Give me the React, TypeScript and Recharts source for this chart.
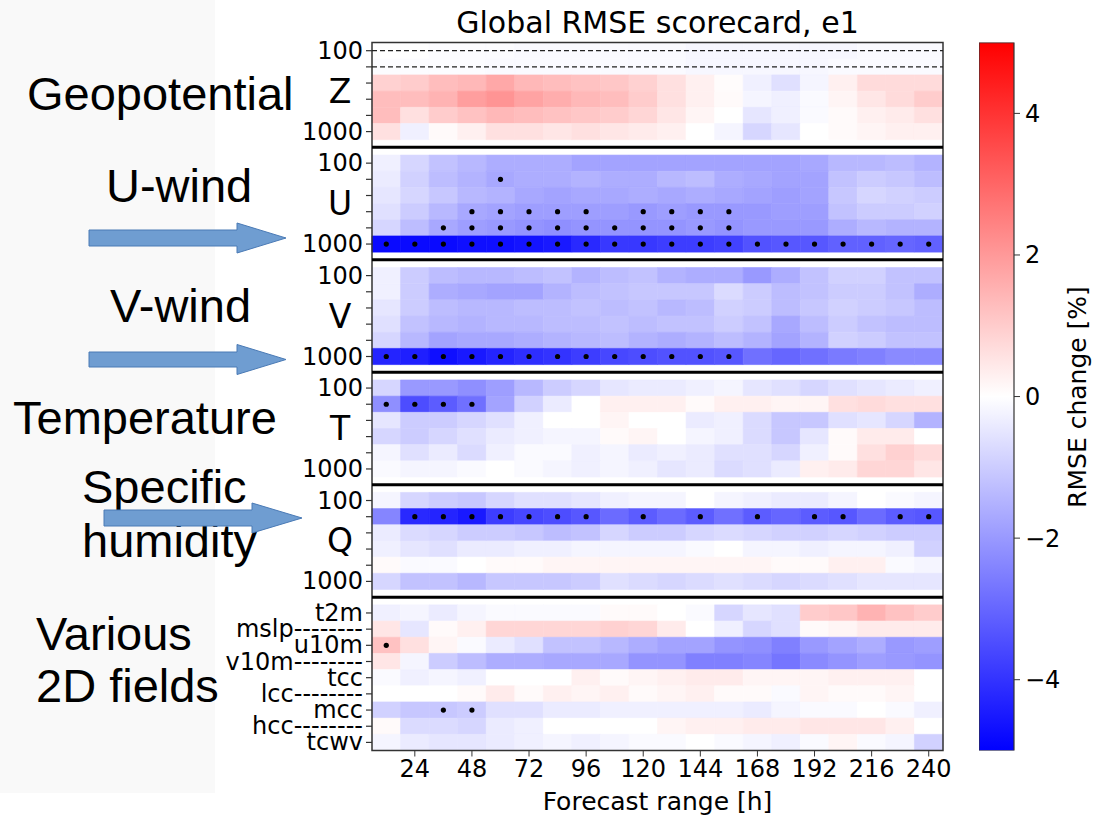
import { ScatterChart, Scatter, XAxis, YAxis, ReferenceArea, ReferenceLine, ComposedChart, Bar } from 'recharts';

// forecast steps (h) and x tick labels
const HOURS = [12, 24, 36, 48, 60, 72, 84, 96, 108, 120, 132, 144, 156, 168, 180, 192, 204, 216, 228, 240];
const X_TICKS = [24, 48, 72, 96, 120, 144, 168, 192, 216, 240];
const CBAR_TICKS = [-4, -2, 0, 2, 4];
const CBAR_RANGE = [{ name: 'cbar', range: [-5, 5] }];

const LEVEL_LABELS = ['100', '', '', '', '', '1000'];
const SFC_LABELS = ['t2m', 'mslp--------', 'u10m', 'v10m--------', 'tcc', 'lcc--------', 'mcc', 'hcc--------', 'tcwv'];
const PANEL_NAMES = ['Z', 'U', 'V', 'T', 'Q', ''];

// RMSE change [%], rows top -> bottom, columns 12h..240h
const Z_VALUES = [
  [0.0, 0.0, -0.05, -0.05, -0.05, -0.1, -0.1, -0.1, -0.1, -0.1, -0.1, -0.15, -0.15, -0.15, -0.15, -0.15, -0.15, -0.1, -0.1, -0.1],
  [-0.05, -0.05, -0.05, -0.05, -0.1, -0.1, -0.1, -0.1, -0.1, -0.1, -0.1, -0.15, -0.15, -0.15, -0.15, -0.15, -0.1, -0.1, -0.1, -0.1],
  [0.9, 1.0, 1.3, 1.4, 1.7, 1.4, 1.3, 1.2, 1.1, 0.9, 0.6, 0.3, 0.05, -0.3, -0.6, -0.2, 0.3, 0.7, 0.7, 0.7],
  [1.3, 1.3, 1.5, 1.9, 2.1, 1.8, 1.6, 1.4, 1.3, 1.0, 0.6, 0.3, 0.1, -0.2, -0.3, -0.1, 0.2, 0.5, 0.7, 1.0],
  [1.3, 0.6, 1.0, 1.2, 1.4, 1.3, 1.2, 1.1, 1.0, 0.8, 0.5, 0.2, 0.0, -0.5, -0.3, -0.1, 0.1, 0.3, 0.4, 0.6],
  [0.6, -0.3, 0.1, 0.3, 0.6, 0.6, 0.5, 0.6, 0.5, 0.4, 0.3, 0.0, -0.2, -0.8, -0.5, 0.0, 0.1, 0.2, 0.3, 0.3],
];
const U_VALUES = [
  [-0.3, -0.8, -1.2, -1.4, -1.6, -1.6, -1.6, -1.8, -1.8, -1.8, -1.8, -1.8, -1.8, -1.8, -1.8, -1.7, -1.4, -1.4, -1.3, -1.5],
  [-0.4, -0.9, -1.3, -1.5, -1.7, -1.6, -1.6, -1.5, -1.6, -1.6, -1.4, -1.3, -1.6, -1.7, -1.8, -1.8, -1.2, -1.0, -1.1, -1.3],
  [-0.5, -0.8, -1.1, -1.4, -1.5, -1.7, -1.8, -1.7, -1.7, -1.6, -1.7, -1.6, -1.7, -1.8, -1.9, -1.8, -1.1, -0.8, -0.9, -1.0],
  [-0.6, -1.0, -1.4, -1.7, -1.8, -1.9, -1.9, -1.9, -1.9, -2.0, -1.9, -2.0, -2.0, -2.0, -1.9, -1.9, -1.2, -1.0, -1.0, -0.9],
  [-0.8, -1.3, -1.7, -1.9, -2.0, -2.1, -2.2, -2.1, -2.1, -2.1, -2.1, -2.0, -2.1, -2.0, -2.0, -2.0, -1.6, -1.4, -1.5, -1.5],
  [-4.8, -4.8, -4.8, -4.7, -4.7, -4.6, -4.5, -4.2, -3.9, -3.9, -3.8, -3.8, -3.7, -3.4, -3.3, -3.3, -3.1, -3.1, -3.0, -3.1],
];
const V_VALUES = [
  [-0.3, -1.0, -1.3, -1.4, -1.4, -1.3, -1.2, -1.5, -1.3, -1.2, -1.5, -1.6, -1.6, -2.0, -1.6, -1.2, -0.9, -0.9, -1.2, -1.2],
  [-0.3, -1.0, -1.6, -1.7, -1.8, -1.8, -1.5, -1.3, -1.2, -1.1, -1.1, -1.1, -0.7, -1.0, -1.3, -1.2, -1.0, -1.0, -1.2, -1.6],
  [-0.5, -1.0, -1.3, -1.4, -1.4, -1.3, -1.3, -1.2, -1.3, -1.2, -1.4, -1.3, -0.9, -1.0, -1.3, -1.1, -0.9, -1.0, -1.1, -1.3],
  [-0.6, -1.2, -1.4, -1.5, -1.4, -1.4, -1.3, -1.3, -1.2, -1.3, -1.2, -1.2, -1.0, -1.2, -1.7, -1.3, -1.0, -1.2, -1.3, -1.3],
  [-0.8, -1.4, -1.8, -1.7, -1.7, -1.6, -1.5, -1.4, -1.3, -1.5, -1.6, -1.5, -1.3, -1.5, -1.8, -1.5, -0.9, -1.0, -1.2, -1.2],
  [-4.3, -4.4, -4.7, -4.5, -4.3, -4.1, -4.0, -3.8, -3.6, -3.5, -3.4, -3.4, -3.3, -2.8, -3.0, -2.8, -2.6, -2.5, -2.3, -2.3],
];
const T_VALUES = [
  [-0.8, -2.0, -2.0, -2.2, -1.9, -1.4, -1.0, -0.8, -0.5, -0.4, -0.4, -0.3, -0.2, -0.5, -0.6, -0.8, -0.6, -0.5, -0.4, -0.3],
  [-2.2, -3.5, -3.2, -2.8, -1.8, -0.9, -0.4, 0.0, 0.3, 0.3, 0.3, 0.1, 0.3, 0.3, 0.2, 0.2, 0.6, 0.7, 0.6, 0.6],
  [-0.5, -1.0, -1.0, -0.8, -0.6, -0.3, 0.0, 0.0, 0.2, 0.0, 0.0, -0.4, -0.3, -0.7, -1.1, -1.1, -0.6, -0.5, -0.8, -1.5],
  [-0.8, -1.0, -0.8, -0.6, -0.4, -0.3, -0.2, -0.2, 0.1, 0.2, 0.0, -0.2, -0.3, -0.7, -1.1, -0.5, 0.1, 0.4, 0.4, 0.0],
  [-0.2, -0.6, -0.4, -0.7, -0.3, -0.1, -0.1, -0.3, -0.2, -0.4, -0.3, -0.4, -0.6, -0.6, -0.8, -0.3, 0.1, 0.6, 0.9, 0.7],
  [-0.1, -0.2, -0.2, -0.1, 0.0, -0.1, -0.2, -0.3, -0.2, -0.3, -0.5, -0.4, -0.7, -0.6, -0.4, 0.3, 0.4, 0.8, 0.8, 0.5],
];
const Q_VALUES = [
  [-0.2, -0.8, -1.0, -1.1, -0.8, -0.6, -0.6, -0.5, -0.3, -0.2, -0.2, 0.0, -0.2, -0.3, -0.4, -0.4, -0.2, 0.0, -0.1, -0.2],
  [-2.4, -4.2, -4.3, -4.5, -3.8, -3.6, -3.5, -3.3, -2.9, -3.2, -2.9, -3.2, -2.8, -3.2, -3.0, -3.2, -3.3, -2.9, -3.2, -3.3],
  [-0.4, -0.7, -0.8, -1.0, -1.0, -1.1, -1.3, -1.2, -0.8, -1.0, -1.0, -0.8, -0.7, -0.8, -0.9, -0.9, -0.8, -0.9, -1.0, -1.0],
  [-0.3, -0.5, -0.6, -0.4, -0.4, -0.3, -0.3, -0.2, -0.2, -0.2, -0.2, -0.1, 0.0, -0.2, -0.2, -0.3, -0.2, -0.2, -0.3, -0.9],
  [0.1, -0.1, -0.1, 0.0, 0.1, 0.1, 0.2, 0.2, 0.2, 0.2, 0.2, 0.2, 0.2, 0.2, 0.1, 0.1, 0.3, 0.3, -0.1, -0.2],
  [-0.8, -1.2, -1.2, -1.4, -1.1, -1.1, -1.1, -1.0, -0.6, -0.7, -0.8, -0.7, -0.6, -0.7, -0.8, -0.7, -0.6, -0.5, -0.5, -0.5],
];
const SFC_VALUES = [
  [-0.3, -0.2, -0.4, -0.2, -0.1, -0.1, -0.1, -0.1, 0.1, 0.1, 0.0, -0.1, -0.8, -0.5, -0.6, 1.0, 1.1, 1.5, 1.2, 1.0],
  [0.5, -0.5, 0.1, 0.3, 0.8, 0.8, 0.8, 0.8, 0.9, 0.8, 0.4, 0.0, -0.3, -0.8, -0.6, 0.1, 0.2, 0.4, 0.4, 0.4],
  [1.2, 0.6, 0.2, -0.1, -0.4, -0.6, -1.2, -1.2, -1.4, -1.6, -1.8, -1.8, -2.1, -2.2, -2.5, -2.0, -1.8, -1.6, -2.0, -1.9],
  [0.5, -0.2, -1.0, -1.3, -1.6, -1.6, -1.7, -1.7, -1.7, -2.1, -2.1, -2.5, -2.5, -2.4, -2.7, -2.3, -2.1, -1.9, -2.0, -2.1],
  [-0.1, -0.3, -0.2, -0.3, 0.0, 0.0, 0.0, 0.3, 0.1, 0.2, 0.3, 0.4, 0.4, 0.2, 0.2, 0.2, 0.3, 0.3, 0.3, 0.0],
  [0.0, 0.0, 0.0, 0.1, 0.4, 0.1, 0.3, 0.2, 0.3, 0.1, 0.2, 0.3, 0.1, 0.1, -0.1, 0.2, 0.1, 0.1, 0.2, 0.0],
  [-0.9, -1.1, -1.1, -1.0, -0.6, -0.6, -0.4, -0.4, -0.3, -0.3, -0.3, -0.3, -0.3, -0.4, -0.2, -0.1, -0.1, 0.0, -0.1, -0.3],
  [0.1, -0.7, -0.7, -0.8, -0.4, -0.3, 0.0, 0.0, 0.0, 0.0, 0.2, 0.3, 0.3, 0.4, 0.4, 0.5, 0.5, 0.5, 0.3, 0.0],
  [-0.2, -0.4, -0.5, -0.5, -0.4, -0.3, -0.2, -0.3, -0.2, -0.1, -0.1, 0.0, -0.1, -0.2, -0.3, -0.1, 0.2, -0.1, -0.2, -0.9],
];

// significant cells (forecast hours), per row
const Z_SIG: number[][] = [[], [], [], [], [], []];
const U_SIG: number[][] = [
  [], [60], [],
  [48, 60, 72, 84, 96, 120, 132, 144, 156],
  [36, 48, 60, 72, 84, 96, 108, 120, 132, 144, 156],
  [12, 24, 36, 48, 60, 72, 84, 96, 108, 120, 132, 144, 156, 168, 180, 192, 204, 216, 228, 240],
];
const V_SIG: number[][] = [[], [], [], [], [], [12, 24, 36, 48, 60, 72, 84, 96, 108, 120, 132, 144, 156]];
const T_SIG: number[][] = [[], [12, 24, 36, 48], [], [], [], []];
const Q_SIG: number[][] = [[], [24, 36, 48, 60, 72, 84, 96, 120, 144, 168, 192, 204, 228, 240], [], [], [], []];
const SFC_SIG: number[][] = [[], [], [12], [], [], [], [36, 48], [], []];

const PANELS = [
  { values: Z_VALUES, sig: Z_SIG, labels: LEVEL_LABELS },
  { values: U_VALUES, sig: U_SIG, labels: LEVEL_LABELS },
  { values: V_VALUES, sig: V_SIG, labels: LEVEL_LABELS },
  { values: T_VALUES, sig: T_SIG, labels: LEVEL_LABELS },
  { values: Q_VALUES, sig: Q_SIG, labels: LEVEL_LABELS },
  { values: SFC_VALUES, sig: SFC_SIG, labels: SFC_LABELS },
];

const GAP = 0.95;
const FONT = 'DejaVu Sans, sans-serif';
const PLOT_LEFT = 372;

const bwr = (v: number) => {
  const t = Math.max(-1, Math.min(1, v / 5));
  if (t < 0) {
    const c = Math.round(255 * (1 + t));
    return `rgb(${c},${c},255)`;
  }
  const c = Math.round(255 * (1 - t));
  return `rgb(255,${c},${c})`;
};

// panel start positions in row units
const starts: number[] = [];
let acc = 0;
PANELS.forEach((p, k) => {
  starts.push(acc);
  acc += p.values.length + (k < PANELS.length - 1 ? GAP : 0);
});
const TOTAL = acc;

const cells: { x1: number; x2: number; y1: number; y2: number; fill: string }[] = [];
const dots: { x: number; y: number }[] = [];
const tickInfo = new Map<string, { text: string; big: boolean }>();
const yTicks: number[] = [];

PANELS.forEach((p, k) => {
  p.values.forEach((row, i) => {
    row.forEach((v, j) => {
      cells.push({ x1: HOURS[j] - 6, x2: HOURS[j] + 6, y1: starts[k] + i, y2: starts[k] + i + 1, fill: bwr(v) });
    });
    p.sig[i].forEach((h) => dots.push({ x: h, y: starts[k] + i + 0.5 }));
    const c = starts[k] + i + 0.5;
    yTicks.push(c);
    tickInfo.set(c.toFixed(3), { text: p.labels[i], big: false });
  });
  if (PANEL_NAMES[k]) {
    const c = starts[k] + p.values.length / 2;
    yTicks.push(c);
    tickInfo.set(c.toFixed(3), { text: PANEL_NAMES[k], big: true });
  }
});
const separators = starts.slice(1).map((s) => s - GAP / 2);

const YTick = (props: any) => {
  const { y, payload } = props;
  const info = tickInfo.get(Number(payload.value).toFixed(3));
  if (!info) return null;
  if (info.big) {
    return (
      <text x={340} y={y} textAnchor="middle" dominantBaseline="central" fontSize={33} fontFamily={FONT} fill="#000">
        {info.text}
      </text>
    );
  }
  return (
    <g>
      <line x1={PLOT_LEFT - 6} x2={PLOT_LEFT} y1={y} y2={y} stroke="#333" strokeWidth={1.2} />
      {info.text && (
        <text x={PLOT_LEFT - 9} y={y} textAnchor="end" dominantBaseline="central" fontSize={24} fontFamily={FONT} fill="#000">
          {info.text}
        </text>
      )}
    </g>
  );
};

const Dot = (props: any) => <circle cx={props.cx} cy={props.cy} r={2.6} fill="#000" />;

const ARROWS = [
  { x0: 89, x1: 237, tip: 286, y: 238, shaft: 8, head: 15 },
  { x0: 89, x1: 237, tip: 286, y: 359.5, shaft: 7.5, head: 15 },
  { x0: 104, x1: 252, tip: 302, y: 518, shaft: 8, head: 15 },
];
const NOTES = [
  { text: 'Geopotential', x: 27, y: 110 },
  { text: 'U-wind', x: 106, y: 202 },
  { text: 'V-wind', x: 110, y: 322 },
  { text: 'Temperature', x: 13, y: 434 },
  { text: 'Specific', x: 82, y: 503 },
  { text: 'humidity', x: 82, y: 557 },
  { text: 'Various', x: 36, y: 650 },
  { text: '2D fields', x: 36, y: 702 },
];

export default function App() {
  return (
    <div style={{ position: 'absolute', left: 0, top: 0, width: 1104, height: 815, background: '#fff', overflow: 'hidden' }}>
      <div style={{ position: 'absolute', left: 0, top: 0, width: 215, height: 793, background: '#f9f9f9' }} />
      <div style={{ position: 'absolute', left: 0, top: 0 }}>
        <ScatterChart width={1104} height={815} margin={{ top: 42.6, right: 161, bottom: 2, left: 272 }}>
          <XAxis
            type="number" dataKey="x" domain={[6, 246]} ticks={X_TICKS} interval={0} allowDataOverflow
            tickSize={6} tickMargin={3} height={62.5} stroke="#333"
            tick={{ fill: '#000', fontSize: 24, fontFamily: FONT }}
            label={{ value: 'Forecast range [h]', position: 'insideBottom', offset: 3, fill: '#000', fontSize: 25, fontFamily: FONT }}
          />
          <YAxis
            type="number" dataKey="y" domain={[0, TOTAL]} reversed ticks={yTicks} interval={0} allowDataOverflow
            width={100} axisLine={false} tickLine={false} tick={<YTick />}
          />
          {cells.map((c, i) => (
            <ReferenceArea key={i} x1={c.x1} x2={c.x2} y1={c.y1} y2={c.y2} fill={c.fill} fillOpacity={1} stroke={c.fill} strokeWidth={0.6} />
          ))}
          <ReferenceLine y={0.5} stroke="#222" strokeWidth={1.2} strokeDasharray="5 3" />
          <ReferenceLine y={1.5} stroke="#222" strokeWidth={1.2} strokeDasharray="5 3" />
          {separators.map((s, i) => (
            <ReferenceLine key={'s' + i} y={s} stroke="#000" strokeWidth={3} />
          ))}
          <ReferenceArea x1={6} x2={246} y1={0} y2={TOTAL} fill="none" stroke="#333" strokeWidth={1.5} />
          <Scatter data={dots} shape={<Dot />} isAnimationActive={false} />
        </ScatterChart>
      </div>
      <div style={{ position: 'absolute', left: 979, top: 0 }}>
        <ComposedChart width={125} height={815} data={CBAR_RANGE} barCategoryGap={0} margin={{ top: 42.6, right: 0, bottom: 64.5, left: 0 }}>
          <defs>
            <linearGradient id="cbar" x1="0" y1="0" x2="0" y2="1">
              <stop offset="0%" stopColor="#ff0000" />
              <stop offset="50%" stopColor="#ffffff" />
              <stop offset="100%" stopColor="#0000ff" />
            </linearGradient>
          </defs>
          <XAxis dataKey="name" hide />
          <YAxis
            type="number" orientation="right" domain={[-5, 5]} ticks={CBAR_TICKS} interval={0} width={90}
            axisLine={false} tickSize={6} tickMargin={5} stroke="#333" allowDataOverflow
            tick={{ fill: '#000', fontSize: 24, fontFamily: FONT, textAnchor: 'start' }}
            tickFormatter={(v: number) => String(v).replace('-', '\u2212')}
          />
          <Bar dataKey="range" fill="url(#cbar)" stroke="#333" strokeWidth={1.2} isAnimationActive={false} />
        </ComposedChart>
      </div>
      <svg width={1104} height={815} style={{ position: 'absolute', left: 0, top: 0, pointerEvents: 'none' }}>
        <text x={657.5} y={33} textAnchor="middle" fontSize={30} fontFamily={FONT} fill="#000">Global RMSE scorecard, e1</text>
        <text x={1077} y={397} textAnchor="middle" dominantBaseline="central" fontSize={25} fontFamily={FONT} fill="#000" transform="rotate(-90 1077 397)">
          RMSE change [%]
        </text>
        {NOTES.map((n) => (
          <text key={n.text} x={n.x} y={n.y} fontSize={47} fontFamily="Liberation Sans, Arial, sans-serif" fill="#000">{n.text}</text>
        ))}
        {ARROWS.map((a, i) => (
          <polygon
            key={i}
            points={`${a.x0},${a.y - a.shaft} ${a.x1},${a.y - a.shaft} ${a.x1},${a.y - a.head} ${a.tip},${a.y} ${a.x1},${a.y + a.head} ${a.x1},${a.y + a.shaft} ${a.x0},${a.y + a.shaft}`}
            fill="#6f9dd1" stroke="#4a7ab5" strokeWidth={1}
          />
        ))}
      </svg>
    </div>
  );
}
